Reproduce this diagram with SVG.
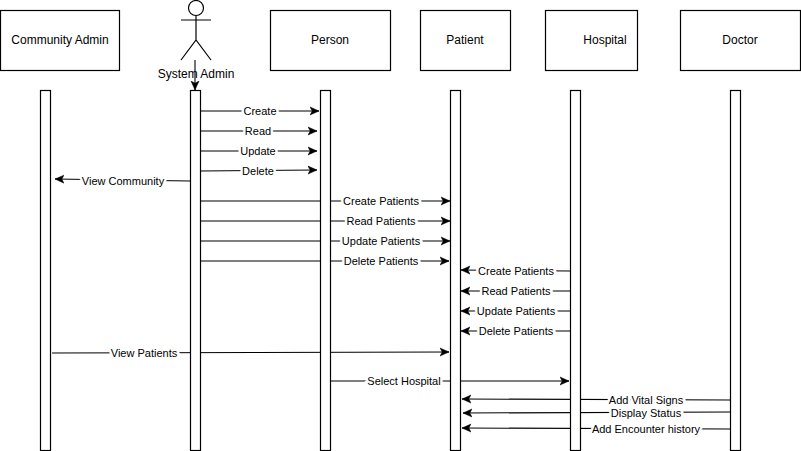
<svg xmlns="http://www.w3.org/2000/svg" width="801" height="451" viewBox="0 0 801 451">
<style>
.b{fill:#fff;stroke:#000;stroke-width:1.2}
.c line{stroke:#000;stroke-width:1.1;marker-end:url(#a)}
.t{font-family:"Liberation Sans",Arial,sans-serif;font-size:12px;fill:#000;text-anchor:middle}
.l{paint-order:stroke;stroke:#fff;stroke-width:5px;font-family:"Liberation Sans",Arial,sans-serif;font-size:11px;fill:#000;text-anchor:middle}
</style>
<defs><marker id="a" markerUnits="userSpaceOnUse" markerWidth="11" markerHeight="10" refX="9" refY="5" orient="auto"><path d="M0 1L9 5L0 9L2.2 5Z" fill="#000" stroke="#000" stroke-width=".5"/></marker></defs>
<rect width="801" height="451" fill="#fff"/>
<g class="c" id="connectors">
<line x1="195" y1="60" x2="195" y2="90"/>
<line x1="200" y1="111" x2="319" y2="111"/>
<line x1="200" y1="131" x2="317" y2="131"/>
<line x1="200" y1="151" x2="317" y2="151"/>
<line x1="200" y1="171" x2="317" y2="170"/>
<line x1="190" y1="181" x2="55" y2="179"/>
<line x1="200" y1="201" x2="450" y2="201"/>
<line x1="200" y1="221" x2="450" y2="221"/>
<line x1="200" y1="241" x2="450" y2="241"/>
<line x1="200" y1="261" x2="449" y2="261"/>
<line x1="570" y1="271" x2="461" y2="270"/>
<line x1="570" y1="291" x2="461" y2="291"/>
<line x1="570" y1="311" x2="461" y2="311"/>
<line x1="570" y1="331" x2="461" y2="331"/>
<line x1="52" y1="353" x2="449" y2="352"/>
<line x1="330" y1="381" x2="569" y2="381"/>
<line x1="730" y1="400" x2="462" y2="399"/>
<line x1="730" y1="412" x2="463" y2="413"/>
<line x1="730" y1="429" x2="462" y2="428"/>
</g>
<g id="community-admin"><rect class="b" x="0.5" y="10.5" width="119" height="60"/><text class="t" x="60" y="44">Community Admin</text></g>
<g id="system-admin" fill="none" stroke="#000" stroke-width="1.2"><circle cx="196" cy="8" r="7.5"/><path d="M196 16V40M181 20H211M181 60L196 40L211 60"/></g>
<g id="person"><rect class="b" x="270.5" y="10.5" width="120" height="60"/><text class="t" x="330" y="44">Person</text></g>
<g id="patient"><rect class="b" x="420.5" y="10.5" width="90" height="60"/><text class="t" x="465" y="44">Patient</text></g>
<g id="hospital"><rect class="b" x="545.5" y="10.5" width="92" height="60"/><text class="t" x="605" y="44">Hospital</text></g>
<g id="doctor"><rect class="b" x="680.5" y="10.5" width="120" height="60"/><text class="t" x="740" y="44">Doctor</text></g>
<g id="lifelines">
<rect class="b" x="40.5" y="90.5" width="10" height="360"/>
<rect class="b" x="190.5" y="90.5" width="10" height="360"/>
<rect class="b" x="320.5" y="90.5" width="10" height="360"/>
<rect class="b" x="450.5" y="90.5" width="10" height="360"/>
<rect class="b" x="570.5" y="90.5" width="10" height="360"/>
<rect class="b" x="730.5" y="90.5" width="10" height="360"/>
</g>
<g id="labels">
<text class="t" x="196" y="78">System Admin</text>
<text class="l" x="260" y="115">Create</text>
<text class="l" x="258" y="135">Read</text>
<text class="l" x="258" y="155">Update</text>
<text class="l" x="258" y="175">Delete</text>
<text class="l" x="123" y="185">View Community</text>
<text class="l" x="381" y="205">Create Patients</text>
<text class="l" x="381" y="225">Read Patients</text>
<text class="l" x="381" y="245">Update Patients</text>
<text class="l" x="381" y="265">Delete Patients</text>
<text class="l" x="516" y="275">Create Patients</text>
<text class="l" x="516" y="295">Read Patients</text>
<text class="l" x="516" y="315">Update Patients</text>
<text class="l" x="516" y="335">Delete Patients</text>
<text class="l" x="144" y="357">View Patients</text>
<text class="l" x="404" y="385">Select Hospital</text>
<text class="l" x="646" y="404">Add Vital Signs</text>
<text class="l" x="646" y="417">Display Status</text>
<text class="l" x="646" y="433">Add Encounter history</text>
</g>
</svg>
